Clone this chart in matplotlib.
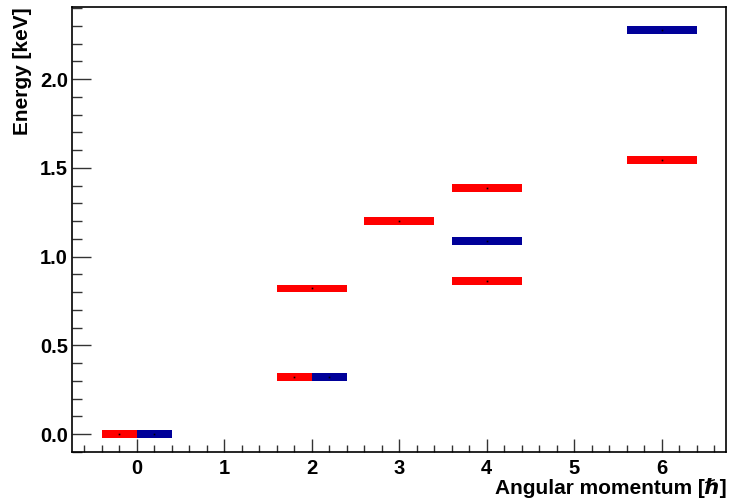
import matplotlib
matplotlib.use("Agg")
import matplotlib.pyplot as plt
from matplotlib.ticker import MultipleLocator

# Data: (angular momentum J, energy in keV, lower/upper extent of level bar in J)
red_J = [0, 2, 2, 3, 4, 4, 6]
red_E = [0.0, 0.32, 0.82, 1.20, 0.86, 1.385, 1.545]
red_lo = [-0.4, 1.6, 1.6, 2.6, 3.6, 3.6, 5.6]
red_hi = [0.0, 2.0, 2.4, 3.4, 4.4, 4.4, 6.4]

blue_J = [0, 2, 4, 6]
blue_E = [0.0, 0.32, 1.087, 2.275]
blue_lo = [0.0, 2.0, 3.6, 5.6]
blue_hi = [0.4, 2.4, 4.4, 6.4]

x_ticks = [0, 1, 2, 3, 4, 5, 6]
y_ticks = [0.0, 0.5, 1.0, 1.5, 2.0]

plt.rcParams['font.family'] = ['Liberation Sans', 'DejaVu Sans']
plt.rcParams['font.weight'] = 'bold'

fig = plt.figure(figsize=(7.29, 4.99), dpi=100)
ax = fig.add_axes([0.0988, 0.0942, 0.8971, 0.8908])

h = 0.045
for lo, hi, E in zip(red_lo, red_hi, red_E):
    ax.bar(lo, h, width=hi - lo, bottom=E - h / 2, align='edge', color='#ff0000', linewidth=0)
    ax.plot([(lo + hi) / 2], [E], marker='s', ms=1.2, color='black', mew=0)
for lo, hi, E in zip(blue_lo, blue_hi, blue_E):
    ax.bar(lo, h, width=hi - lo, bottom=E - h / 2, align='edge', color='#000099', linewidth=0)
    ax.plot([(lo + hi) / 2], [E], marker='s', ms=1.2, color='black', mew=0)

ax.set_xlim(-0.74, 6.735)
ax.set_ylim(-0.101, 2.403)

ax.set_xticks(x_ticks)
ax.set_xticklabels([str(v) for v in x_ticks])
ax.set_yticks(y_ticks)
ax.set_yticklabels([f"{v:.1f}" for v in y_ticks])
ax.xaxis.set_minor_locator(MultipleLocator(0.2))
ax.yaxis.set_minor_locator(MultipleLocator(0.1))

tc = '#333333'
ax.tick_params(axis='x', which='major', direction='in', length=9.5, width=1.0, color=tc, labelsize=14.5, pad=5, top=False)
ax.tick_params(axis='x', which='minor', direction='in', length=5, width=1.0, color=tc, top=False)
ax.tick_params(axis='y', which='major', direction='in', length=14, width=1.0, color=tc, labelsize=14.5, pad=3, right=False)
ax.tick_params(axis='y', which='minor', direction='in', length=7, width=1.0, color=tc, right=False)
for lbl in ax.get_xticklabels() + ax.get_yticklabels():
    lbl.set_fontweight('bold')

for sp in ax.spines.values():
    sp.set_linewidth(1.2)
    sp.set_color('black')

fig.text(727 / 729, 1 - 494 / 499, "Angular momentum [ℏ]", fontsize=15, fontweight='bold',
         ha='right', va='baseline')
ax.set_ylabel("Energy [keV]", fontsize=15, fontweight='bold', loc='top', labelpad=6)

fig.savefig("out.png", dpi=100)
